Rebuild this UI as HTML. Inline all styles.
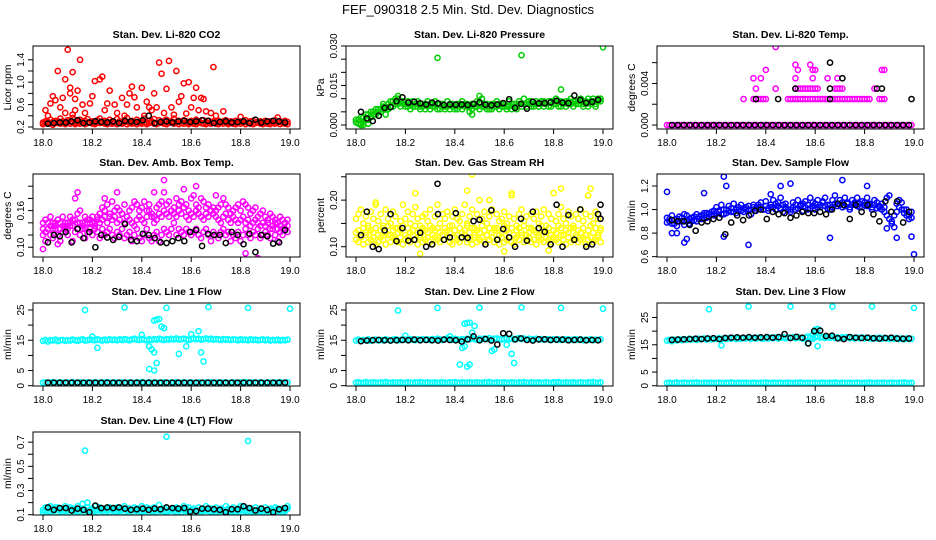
<!DOCTYPE html>
<html><head><meta charset="utf-8">
<style>
html,body{margin:0;padding:0;background:#fff;}
svg{display:block;font-family:"Liberation Sans",Arial,sans-serif;}
</style></head>
<body>
<svg id="chart" width="936" height="540" viewBox="0 0 936 540" xmlns="http://www.w3.org/2000/svg">
<rect x="0" y="0" width="936" height="540" fill="#fff"/>
<text x="468" y="14" text-anchor="middle" font-size="13">FEF_090318  2.5 Min. Std. Dev. Diagnostics</text>
</svg>
<script>
const colorTimes=[18.00,18.01,18.02,18.03,18.04,18.05,18.06,18.07,18.08,18.09,18.10,18.11,18.12,18.13,18.14,18.15,18.16,18.17,18.18,18.19,18.20,18.21,18.22,18.23,18.24,18.25,18.26,18.27,18.28,18.29,18.30,18.31,18.32,18.33,18.34,18.35,18.36,18.37,18.38,18.39,18.40,18.41,18.42,18.43,18.44,18.45,18.46,18.47,18.48,18.49,18.50,18.51,18.52,18.53,18.54,18.55,18.56,18.57,18.58,18.59,18.60,18.61,18.62,18.63,18.64,18.65,18.66,18.67,18.68,18.69,18.70,18.71,18.72,18.73,18.74,18.75,18.76,18.77,18.78,18.79,18.80,18.81,18.82,18.83,18.84,18.85,18.86,18.87,18.88,18.89,18.90,18.91,18.92,18.93,18.94,18.95,18.96,18.97,18.98,18.99];
const blackTimes=[18.02,18.044,18.068,18.092,18.116,18.14,18.164,18.188,18.212,18.236,18.26,18.284,18.308,18.332,18.356,18.38,18.404,18.428,18.452,18.476,18.5,18.524,18.548,18.572,18.596,18.62,18.644,18.668,18.692,18.716,18.74,18.764,18.788,18.812,18.836,18.86,18.884,18.908,18.932,18.956,18.98];
const xTicks=[18.0,18.2,18.4,18.6,18.8,19.0];
const xTickLabels=["18.0","18.2","18.4","18.6","18.8","19.0"];

// CO2
const co2Band=[0.28,0.3,0.26,0.33,0.29,0.31,0.27,0.35,0.3,0.28,0.32,0.29,0.36,0.27,0.3,0.33,0.28,0.31,0.34,0.29,0.3,0.27,0.32,0.35,0.28,0.31,0.29,0.33,0.3,0.27,0.34,0.3,0.28,0.32,0.36,0.29,0.31,0.27,0.33,0.3,0.29,0.35,0.28,0.31,0.3,0.34,0.27,0.32,0.29,0.31,0.33,0.28,0.3,0.35,0.29,0.31,0.27,0.32,0.3,0.28,0.31,0.29,0.33,0.3,0.27,0.32,0.29,0.31,0.28,0.3,0.29,0.31,0.28,0.3,0.32,0.27,0.3,0.29,0.31,0.28,0.3,0.29,0.32,0.28,0.3,0.31,0.27,0.29,0.3,0.28,0.31,0.29,0.3,0.28,0.32,0.29,0.3,0.28,0.31,0.29];
const co2Band2=[0.25,0.27,0.29,0.26,0.24,0.28,0.3,0.26,0.27,0.25,0.29,0.26,0.28,0.25,0.27,0.26,0.3,0.25,0.27,0.28,0.26,0.25,0.28,0.27,0.3,0.26,0.25,0.27,0.26,0.28,0.25,0.27,0.26,0.29,0.25,0.27,0.26,0.28,0.25,0.27,0.26,0.28,0.25,0.27,0.29,0.26,0.25,0.27,0.28,0.26,0.25,0.27,0.29,0.26,0.28,0.25,0.27,0.26,0.28,0.25,0.27,0.26,0.25,0.28,0.27,0.26,0.25,0.27,0.26,0.28,0.26,0.25,0.27,0.26,0.28,0.25,0.27,0.26,0.25,0.27,0.26,0.28,0.25,0.27,0.26,0.25,0.27,0.28,0.26,0.25,0.27,0.26,0.25,0.27,0.26,0.28,0.25,0.27,0.26,0.25];
const co2ExtraX=[18.01,18.03,18.04,18.05,18.06,18.07,18.08,18.09,18.10,18.11,18.12,18.13,18.14,18.15,18.16,18.17,18.09,18.11,18.13,18.19,18.2,18.21,18.23,18.24,18.25,18.26,18.27,18.29,18.3,18.32,18.34,18.35,18.36,18.37,18.38,18.4,18.41,18.42,18.43,18.44,18.45,18.46,18.47,18.48,18.49,18.5,18.51,18.52,18.53,18.54,18.55,18.56,18.57,18.59,18.6,18.61,18.62,18.63,18.64,18.65,18.66,18.68,18.69,18.7,18.73,18.8,18.95,18.02,18.12,18.33,18.58];
const co2ExtraY=[0.5,0.62,0.75,0.68,1.2,0.55,0.72,0.45,1.58,0.8,1.18,0.7,0.85,1.4,0.6,0.45,1.05,0.9,0.5,0.62,0.75,1.02,1.05,1.1,0.5,0.62,0.85,0.6,0.45,0.72,0.6,0.8,0.92,0.73,0.55,0.9,0.4,0.65,0.55,0.5,0.8,0.55,1.35,1.15,0.45,0.88,1.38,0.55,0.42,1.2,0.65,0.75,0.98,1.0,0.55,0.72,0.9,0.5,0.72,0.7,0.48,0.45,1.27,0.4,0.48,0.38,0.37,0.4,0.42,0.4,0.44];
const co2Black=[0.26,0.27,0.28,0.28,0.3,0.32,0.27,0.28,0.3,0.29,0.28,0.3,0.27,0.31,0.3,0.29,0.32,0.4,0.27,0.29,0.3,0.28,0.3,0.31,0.29,0.3,0.32,0.31,0.27,0.29,0.3,0.28,0.29,0.3,0.27,0.33,0.28,0.3,0.31,0.3,0.28];

// Pressure
const prsBand=[0.001,0.002,0.0005,0.003,0.002,0.004,0.003,0.005,0.004,0.006,0.005,0.007,0.006,0.008,0.007,0.009,0.008,0.01,0.009,0.008,0.007,0.009,0.008,0.007,0.008,0.009,0.007,0.008,0.006,0.009,0.008,0.007,0.009,0.008,0.006,0.008,0.007,0.009,0.008,0.007,0.006,0.008,0.007,0.009,0.008,0.007,0.005,0.008,0.007,0.009,0.008,0.01,0.007,0.008,0.006,0.008,0.007,0.009,0.008,0.007,0.008,0.007,0.009,0.006,0.008,0.007,0.009,0.008,0.01,0.008,0.009,0.007,0.008,0.009,0.007,0.008,0.009,0.008,0.007,0.009,0.008,0.01,0.009,0.007,0.008,0.009,0.008,0.01,0.009,0.008,0.009,0.01,0.008,0.009,0.007,0.009,0.01,0.008,0.009,0.01];
const prsBand2=[0.002,0.0005,0.003,0.001,0.004,0.002,0.005,0.004,0.006,0.005,0.006,0.008,0.007,0.006,0.009,0.007,0.01,0.008,0.007,0.009,0.008,0.007,0.006,0.009,0.007,0.008,0.006,0.007,0.008,0.007,0.006,0.008,0.007,0.006,0.008,0.007,0.006,0.007,0.006,0.008,0.007,0.006,0.008,0.006,0.007,0.008,0.007,0.006,0.008,0.007,0.006,0.007,0.008,0.006,0.007,0.006,0.008,0.007,0.006,0.008,0.007,0.006,0.007,0.008,0.007,0.006,0.008,0.007,0.008,0.007,0.008,0.009,0.007,0.008,0.007,0.009,0.007,0.008,0.009,0.007,0.009,0.008,0.007,0.009,0.008,0.007,0.009,0.008,0.007,0.009,0.008,0.009,0.007,0.008,0.01,0.008,0.009,0.007,0.01,0.009];
const prsExtraX=[18.33,18.67,19.0,18.83,18.5,18.02,18.03,18.05,18.12,18.17,18.47];
const prsExtraY=[0.0255,0.0265,0.0295,0.0135,0.011,0,0,0.0005,0.004,0.011,0.004];
const prsBlack=[0.005,0.0025,0.0015,0.0035,0.0065,0.0068,0.009,0.0105,0.0085,0.0088,0.0082,0.0078,0.0085,0.0082,0.0076,0.0078,0.0077,0.0078,0.0076,0.008,0.0086,0.0077,0.0075,0.0078,0.0083,0.0098,0.0065,0.008,0.0062,0.0088,0.0082,0.0083,0.0086,0.0092,0.0085,0.0083,0.0112,0.0095,0.0084,0.0088,0.0096];

// Li-820 temp
const tmpBand=[0,0,0,0,0,0,0,0,0,0,0,0,0,0,0,0,0,0,0,0,0,0,0,0,0,0,0,0,0,0,0,0,0,0,0,0,0,0,0,0,0,0,0,0,0,0,0,0,0,0,0,0,0,0,0,0,0,0,0,0,0,0,0,0,0,0,0,0,0,0,0,0,0,0,0,0,0,0,0,0,0,0,0,0,0,0,0,0,0,0,0,0,0,0,0,0,0,0,0,0];
const tmpExtraX=[18.31,18.35,18.36,18.37,18.38,18.39,18.4,18.49,18.5,18.51,18.52,18.53,18.54,18.55,18.56,18.57,18.58,18.59,18.6,18.61,18.62,18.63,18.64,18.65,18.66,18.67,18.68,18.69,18.7,18.71,18.72,18.73,18.74,18.75,18.76,18.77,18.78,18.79,18.8,18.81,18.82,18.86,18.87,18.88,18.36,18.44,18.52,18.53,18.54,18.55,18.56,18.57,18.58,18.59,18.6,18.61,18.68,18.69,18.7,18.71,18.84,18.35,18.38,18.52,18.59,18.65,18.69,18.4,18.53,18.59,18.6,18.87,18.88,18.52,18.58,18.44];
const tmpExtraY=[0.0025,0.0025,0.0025,0.0025,0.0025,0.0025,0.0025,0.0025,0.0025,0.0025,0.0025,0.0025,0.0025,0.0025,0.0025,0.0025,0.0025,0.0025,0.0025,0.0025,0.0025,0.0025,0.0025,0.0025,0.0025,0.0025,0.0025,0.0025,0.0025,0.0025,0.0025,0.0025,0.0025,0.0025,0.0025,0.0025,0.0025,0.0025,0.0025,0.0025,0.0025,0.0025,0.0025,0.0025,0.0035,0.0035,0.0035,0.0035,0.0035,0.0035,0.0035,0.0035,0.0035,0.0035,0.0035,0.0035,0.0035,0.0035,0.0035,0.0035,0.0035,0.0045,0.0045,0.0045,0.0045,0.0045,0.0045,0.0053,0.0053,0.0053,0.0053,0.0053,0.0053,0.0058,0.0058,0.0075];
const tmpBlack=[0,0,0,0,0,0,0,0,0,0,0,0,0,0,0,0,0,0,0,0,0,0,0,0,0,0,0,0,0,0,0,0,0,0,0,0,0,0,0,0,0];
const tmpBlackExtraX=[18.36,18.45,18.66,18.52,18.66,18.85,18.87,18.71,18.66,18.99];
const tmpBlackExtraY=[0.0025,0.0025,0.0025,0.0035,0.0035,0.0035,0.0035,0.0045,0.006,0.0025];

// Amb box temp
const ambBand=[0.12,0.11,0.13,0.12,0.115,0.13,0.12,0.11,0.125,0.13,0.12,0.135,0.11,0.125,0.14,0.12,0.13,0.115,0.125,0.13,0.12,0.13,0.125,0.115,0.13,0.12,0.125,0.13,0.12,0.115,0.125,0.12,0.13,0.115,0.12,0.125,0.11,0.12,0.13,0.115,0.11,0.12,0.13,0.115,0.11,0.12,0.125,0.11,0.12,0.13,0.125,0.12,0.13,0.14,0.12,0.13,0.125,0.12,0.13,0.125,0.12,0.125,0.13,0.12,0.115,0.125,0.13,0.12,0.11,0.125,0.12,0.115,0.125,0.13,0.12,0.125,0.11,0.12,0.115,0.125,0.11,0.12,0.13,0.12,0.115,0.125,0.12,0.13,0.115,0.12,0.125,0.12,0.115,0.13,0.12,0.11,0.125,0.12,0.13,0.125];
const ambBand2=[0.14,0.145,0.13,0.15,0.14,0.135,0.145,0.14,0.15,0.135,0.14,0.15,0.145,0.18,0.155,0.16,0.14,0.15,0.145,0.14,0.15,0.14,0.145,0.155,0.165,0.16,0.17,0.15,0.175,0.16,0.165,0.16,0.155,0.17,0.15,0.16,0.165,0.175,0.17,0.16,0.165,0.175,0.16,0.17,0.155,0.15,0.165,0.17,0.175,0.19,0.17,0.175,0.16,0.165,0.18,0.17,0.175,0.165,0.17,0.16,0.18,0.185,0.17,0.165,0.18,0.175,0.165,0.17,0.16,0.165,0.16,0.165,0.17,0.18,0.17,0.165,0.155,0.16,0.165,0.17,0.16,0.175,0.17,0.165,0.155,0.16,0.165,0.15,0.155,0.16,0.15,0.145,0.155,0.15,0.145,0.14,0.15,0.145,0.14,0.145];
const ambBand3=[0.13,0.125,0.14,0.135,0.13,0.14,0.145,0.13,0.135,0.14,0.13,0.14,0.135,0.145,0.13,0.14,0.135,0.13,0.14,0.145,0.14,0.135,0.15,0.14,0.145,0.15,0.14,0.155,0.145,0.15,0.14,0.145,0.155,0.14,0.15,0.145,0.14,0.135,0.145,0.15,0.145,0.14,0.15,0.16,0.15,0.14,0.145,0.155,0.15,0.16,0.155,0.15,0.16,0.155,0.15,0.16,0.155,0.165,0.15,0.145,0.155,0.15,0.16,0.155,0.15,0.145,0.155,0.15,0.16,0.155,0.15,0.145,0.14,0.15,0.155,0.145,0.14,0.15,0.145,0.14,0.145,0.15,0.14,0.145,0.135,0.14,0.145,0.14,0.135,0.14,0.135,0.14,0.13,0.135,0.14,0.13,0.135,0.13,0.14,0.135];
const ambExtraX=[18.14,18.49,18.62,18.87,18.0,18.82,18.3,18.25,18.57,18.7,18.45,18.06];
const ambExtraY=[0.19,0.21,0.2,0.082,0.097,0.09,0.19,0.18,0.195,0.185,0.19,0.105];
const ambBlack=[0.108,0.12,0.118,0.125,0.108,0.13,0.115,0.125,0.1,0.12,0.116,0.112,0.117,0.138,0.112,0.11,0.122,0.12,0.115,0.108,0.107,0.11,0.115,0.11,0.125,0.128,0.102,0.122,0.12,0.12,0.107,0.125,0.12,0.105,0.122,0.092,0.12,0.118,0.106,0.108,0.128];

// Gas stream RH
const rhBand=[0.115,0.11,0.12,0.105,0.125,0.11,0.115,0.12,0.105,0.11,0.12,0.115,0.105,0.125,0.11,0.12,0.115,0.11,0.12,0.105,0.115,0.12,0.11,0.125,0.115,0.105,0.12,0.11,0.115,0.12,0.11,0.105,0.12,0.115,0.11,0.125,0.115,0.12,0.11,0.105,0.12,0.115,0.11,0.12,0.125,0.11,0.115,0.105,0.12,0.11,0.115,0.12,0.11,0.125,0.115,0.12,0.11,0.115,0.105,0.12,0.11,0.115,0.12,0.11,0.105,0.12,0.115,0.125,0.11,0.115,0.12,0.11,0.115,0.105,0.12,0.115,0.11,0.12,0.115,0.11,0.12,0.115,0.11,0.125,0.115,0.105,0.12,0.11,0.115,0.12,0.11,0.115,0.12,0.105,0.115,0.12,0.11,0.115,0.12,0.11];
const rhBand2=[0.16,0.17,0.18,0.15,0.165,0.14,0.175,0.16,0.19,0.155,0.17,0.145,0.18,0.16,0.15,0.175,0.165,0.14,0.155,0.19,0.16,0.175,0.15,0.17,0.185,0.16,0.145,0.165,0.17,0.155,0.18,0.14,0.165,0.19,0.15,0.17,0.16,0.175,0.145,0.165,0.18,0.16,0.155,0.17,0.19,0.15,0.165,0.18,0.14,0.17,0.2,0.16,0.175,0.15,0.165,0.18,0.14,0.17,0.155,0.16,0.175,0.15,0.165,0.21,0.16,0.145,0.17,0.18,0.155,0.165,0.14,0.17,0.16,0.175,0.15,0.165,0.18,0.145,0.17,0.16,0.215,0.155,0.17,0.185,0.16,0.15,0.175,0.165,0.14,0.17,0.16,0.18,0.155,0.17,0.21,0.165,0.15,0.175,0.16,0.14];
const rhBand3=[0.13,0.135,0.125,0.14,0.13,0.145,0.135,0.13,0.14,0.125,0.135,0.14,0.13,0.145,0.125,0.135,0.14,0.13,0.135,0.145,0.125,0.14,0.13,0.135,0.145,0.13,0.125,0.14,0.135,0.13,0.145,0.125,0.135,0.14,0.13,0.125,0.14,0.135,0.13,0.145,0.135,0.125,0.14,0.13,0.135,0.145,0.13,0.14,0.125,0.135,0.13,0.145,0.135,0.125,0.14,0.13,0.135,0.14,0.125,0.13,0.145,0.135,0.13,0.14,0.125,0.135,0.14,0.13,0.145,0.125,0.13,0.14,0.135,0.13,0.125,0.145,0.135,0.13,0.14,0.125,0.135,0.13,0.145,0.14,0.125,0.135,0.13,0.14,0.145,0.125,0.135,0.13,0.14,0.125,0.135,0.145,0.13,0.14,0.125,0.135];
const rhExtraX=[18.47,18.24,18.45,18.26,18.95,18.54,18.83,18.63,18.94,18.08,18.6,18.78];
const rhExtraY=[0.255,0.215,0.22,0.085,0.225,0.2,0.225,0.215,0.21,0.195,0.09,0.092];
const rhBlack=[0.125,0.175,0.1,0.095,0.135,0.17,0.112,0.14,0.113,0.115,0.13,0.1,0.105,0.17,0.115,0.12,0.172,0.12,0.119,0.155,0.158,0.105,0.178,0.115,0.138,0.12,0.1,0.16,0.113,0.175,0.14,0.132,0.105,0.19,0.1,0.168,0.115,0.18,0.1,0.105,0.17];
const rhBlackExtraX=[18.33,18.99,18.99];
const rhBlackExtraY=[0.235,0.19,0.16];

// Sample flow
const sfBand=[0.93,0.9,0.95,0.88,0.92,0.94,0.9,0.87,0.95,0.92,0.9,0.94,0.96,0.92,0.95,0.97,0.93,0.96,0.98,0.95,0.97,0.99,0.96,1.0,0.97,0.99,1.01,0.98,1.0,1.02,0.99,1.01,1.0,1.03,1.0,1.02,1.01,1.04,1.02,1.0,1.03,1.01,1.04,1.02,1.05,1.03,1.01,1.04,1.02,1.0,1.0,1.02,1.04,1.01,1.03,1.05,1.02,1.04,1.01,1.03,1.05,1.02,1.04,1.06,1.03,1.01,1.04,1.02,1.05,1.03,1.04,1.06,1.03,1.05,1.02,1.04,1.06,1.03,1.05,1.02,1.04,1.03,1.05,1.02,1.04,1.01,1.03,1.0,1.02,0.95,0.92,0.9,0.95,0.98,1.02,1.0,0.97,1.0,0.95,0.93];
const sfBand2=[0.89,0.92,0.88,0.91,0.86,0.9,0.93,0.96,0.9,0.88,0.93,0.91,0.9,0.94,0.92,0.95,0.97,0.94,0.96,0.99,1.02,0.98,1.04,0.96,1.0,1.03,0.98,1.05,0.97,1.0,1.04,0.98,1.02,1.0,0.96,1.04,0.99,1.02,1.06,1.0,1.07,0.99,1.02,1.08,1.0,1.06,1.1,0.98,1.05,1.0,0.98,1.06,1.0,1.08,1.04,0.99,1.07,1.0,1.1,1.06,1.0,1.08,1.02,1.07,1.1,1.04,1.0,1.08,1.12,1.05,1.08,1.02,1.1,1.06,1.0,1.08,1.05,1.1,1.02,1.07,1.06,1.1,1.04,1.0,1.08,1.06,1.02,1.05,0.98,1.1,1.12,0.88,0.85,1.05,1.08,1.06,1.0,0.95,0.92,0.98];
const sfExtraX=[18.0,18.04,18.07,18.08,18.23,18.24,18.23,18.33,18.5,18.46,18.71,18.66,18.81,18.93,18.99,19.0,18.89,18.02,18.15,18.42];
const sfExtraY=[1.15,0.8,0.72,0.75,1.28,1.2,0.77,0.7,1.22,1.2,1.25,0.76,1.2,0.76,0.77,0.62,0.84,0.8,1.14,1.13];
const sfBlack=[0.91,0.9,0.9,0.87,0.82,0.89,0.9,0.92,0.93,0.79,0.89,0.95,0.91,0.95,0.99,1.0,0.92,0.98,0.96,0.97,0.93,0.95,0.98,0.97,0.97,0.98,0.96,1.0,1.05,1.04,0.92,1.04,0.98,1.04,0.96,0.9,1.07,0.98,1.07,0.89,0.98];

// Line flows
const l1Band=[14.8,15.1,14.6,15.0,14.9,15.2,14.7,15.0,15.1,14.8,15.0,14.9,15.2,15.0,14.8,15.1,15.3,14.9,15.0,15.2,15.1,15.0,15.3,15.1,14.9,15.2,15.0,15.3,15.1,15.2,15.0,15.3,15.1,15.4,15.2,15.0,15.3,15.5,15.2,15.1,15.4,15.2,15.0,15.3,15.1,15.4,15.2,15.5,15.3,15.1,15.4,15.2,15.5,15.3,15.6,15.2,15.4,15.5,15.3,15.1,15.4,15.6,15.3,15.5,15.2,15.4,15.6,15.3,15.5,15.2,15.4,15.3,15.1,15.4,15.2,15.3,15.1,15.3,15.2,15.0,15.3,15.1,15.2,15.0,15.3,15.1,15.2,15.0,15.1,15.3,15.0,15.2,14.9,15.1,15.0,15.2,14.9,15.1,15.0,15.2];
const l1Low=[1.0,1.1,0.9,1.0,1.2,0.9,1.0,1.1,1.0,0.9,1.1,1.0,1.2,1.0,0.9,1.1,1.0,1.0,1.1,0.9,1.0,1.1,1.0,0.9,1.1,1.0,1.2,1.0,0.9,1.1,1.0,1.0,1.1,0.9,1.0,1.1,1.0,0.9,1.1,1.0,1.2,1.0,0.9,1.1,1.0,1.0,1.1,0.9,1.0,1.1,1.0,0.9,1.1,1.0,1.2,1.0,0.9,1.1,1.0,1.0,1.1,0.9,1.0,1.1,1.0,0.9,1.1,1.0,1.2,1.0,0.9,1.1,1.0,1.0,1.1,0.9,1.0,1.1,1.0,0.9,1.1,1.0,1.2,1.0,0.9,1.1,1.0,1.0,1.1,0.9,1.0,1.1,1.0,0.9,1.1,1.0,1.2,1.0,0.9,1.1];
const l1ExtraX=[18.17,18.33,18.5,18.67,18.83,19.0,18.45,18.46,18.47,18.48,18.49,18.43,18.44,18.45,18.43,18.45,18.46,18.55,18.58,18.63,18.64,18.65,18.22,18.6,18.4,18.2];
const l1ExtraY=[25,25.8,25.7,26,25.7,25.4,21.5,21.8,22,19.5,19,13,12,11,5.5,5,7.5,10.5,13,18,11,8,12.5,17,16.8,16.2];
const l1Black=[1,1,1,1,1,1,1,1,1,1,1,1,1,1,1,1,1,1,1,1,1,1,1,1,1,1,1,1,1,1,1,1,1,1,1,1,1,1,1,1,1];

const l2Band=[14.9,15.2,14.7,15.1,15.0,15.3,14.8,15.1,15.2,14.9,15.1,15.0,15.3,15.1,14.9,15.2,15.4,15.0,15.1,15.3,15.2,15.1,15.4,15.2,15.0,15.3,15.1,15.4,15.2,15.3,15.1,15.4,15.2,15.5,15.3,15.1,15.4,15.6,15.3,15.2,15.5,15.3,15.1,15.4,15.2,15.5,15.3,15.6,15.4,15.2,15.5,15.3,15.6,15.4,15.7,15.3,15.5,15.6,15.4,15.2,15.5,15.7,15.4,15.6,15.3,15.5,15.7,15.4,15.6,15.3,15.5,15.4,15.2,15.5,15.3,15.4,15.2,15.4,15.3,15.1,15.4,15.2,15.3,15.1,15.4,15.2,15.3,15.1,15.2,15.4,15.1,15.3,15.0,15.2,15.1,15.3,15.0,15.2,15.1,15.3];
const l2Low=[1.0,1.1,0.9,1.0,1.2,0.9,1.0,1.1,1.0,0.9,1.1,1.0,1.2,1.0,0.9,1.1,1.0,1.0,1.1,0.9,1.0,1.1,1.0,0.9,1.1,1.0,1.2,1.0,0.9,1.1,1.0,1.0,1.1,0.9,1.0,1.1,1.0,0.9,1.1,1.0,1.2,1.0,0.9,1.1,1.0,1.0,1.1,0.9,1.0,1.1,1.0,0.9,1.1,1.0,1.2,1.0,0.9,1.1,1.0,1.0,1.1,0.9,1.0,1.1,1.0,0.9,1.1,1.0,1.2,1.0,0.9,1.1,1.0,1.0,1.1,0.9,1.0,1.1,1.0,0.9,1.1,1.0,1.2,1.0,0.9,1.1,1.0,1.0,1.1,0.9,1.0,1.1,1.0,0.9,1.1,1.0,1.2,1.0,0.9,1.1];
const l2ExtraX=[18.17,18.33,18.5,18.67,18.83,19.0,18.44,18.45,18.46,18.48,18.47,18.43,18.44,18.42,18.45,18.46,18.55,18.56,18.63,18.64,18.61,18.2,18.38];
const l2ExtraY=[24.8,25.7,25.8,25.8,25.7,25.4,20.5,20.7,20.8,19.7,17.5,12.5,13,7,6.3,7,11.5,12,10.5,7.5,13.5,16.5,16.3];
const l2Black=[14.7,14.9,15.0,15.1,15.0,14.9,15.0,15.1,15.0,15.2,15.0,15.1,15.0,14.9,15.2,15.1,15.0,14.6,15.3,16.3,15.0,15.4,14.9,13.6,17.3,17.1,15.3,15.6,15.1,14.9,15.3,15.3,15.1,15.2,15.2,15.0,15.1,15.2,15.0,15.1,15.0];

const l3Band=[16.5,16.8,16.3,16.9,16.6,17.0,16.7,17.1,16.8,17.2,16.9,17.1,16.8,17.2,17.0,17.3,16.9,17.2,17.0,17.3,17.1,17.4,17.0,17.3,17.1,17.4,17.2,17.5,17.1,17.4,17.2,17.5,17.3,17.6,17.2,17.5,17.3,17.6,17.4,17.2,17.5,17.3,17.6,17.4,17.7,17.3,17.6,17.8,17.4,17.7,17.5,17.8,17.4,17.7,17.5,17.3,17.6,18.0,17.5,17.2,17.8,18.2,17.6,17.9,17.5,17.8,17.6,17.9,17.5,17.7,17.4,17.7,17.5,17.8,17.4,17.6,17.3,17.6,17.4,17.7,17.3,17.6,17.4,17.2,17.5,17.3,17.6,17.2,17.5,17.3,17.1,17.4,17.2,17.5,17.1,17.3,17.0,17.3,17.1,17.2];
const l3Low=[1.0,1.1,0.9,1.0,1.2,0.9,1.0,1.1,1.0,0.9,1.1,1.0,1.2,1.0,0.9,1.1,1.0,1.0,1.1,0.9,1.0,1.1,1.0,0.9,1.1,1.0,1.2,1.0,0.9,1.1,1.0,1.0,1.1,0.9,1.0,1.1,1.0,0.9,1.1,1.0,1.2,1.0,0.9,1.1,1.0,1.0,1.1,0.9,1.0,1.1,1.0,0.9,1.1,1.0,1.2,1.0,0.9,1.1,1.0,1.0,1.1,0.9,1.0,1.1,1.0,0.9,1.1,1.0,1.2,1.0,0.9,1.1,1.0,1.0,1.1,0.9,1.0,1.1,1.0,0.9,1.1,1.0,1.2,1.0,0.9,1.1,1.0,1.0,1.1,0.9,1.0,1.1,1.0,0.9,1.1,1.0,1.2,1.0,0.9,1.1];
const l3ExtraX=[18.17,18.33,18.5,18.67,18.83,19.0,18.22,18.61,18.6,18.61,18.57,18.59,18.6];
const l3ExtraY=[28,29,29,29,29,28.5,14.8,14.5,20.5,20.8,15.5,18.5,19.5];
const l3Black=[16.8,16.9,17.0,17.1,17.2,17.1,17.3,17.4,17.1,17.5,17.6,17.7,17.6,17.8,17.6,17.7,17.8,17.6,17.8,18.9,17.5,17.9,17.6,15.5,20.0,20.2,18.2,18.3,17.4,17.1,17.8,17.6,17.5,17.6,17.4,17.3,17.5,17.6,17.3,17.2,17.3];

const l4Band=[0.14,0.16,0.13,0.17,0.15,0.14,0.16,0.13,0.15,0.17,0.14,0.16,0.15,0.13,0.17,0.15,0.19,0.14,0.16,0.13,0.15,0.17,0.14,0.16,0.13,0.15,0.14,0.16,0.15,0.13,0.16,0.14,0.15,0.17,0.13,0.15,0.14,0.16,0.13,0.15,0.17,0.14,0.16,0.15,0.13,0.16,0.14,0.18,0.15,0.13,0.16,0.14,0.15,0.13,0.16,0.14,0.15,0.17,0.13,0.16,0.14,0.15,0.13,0.16,0.14,0.15,0.17,0.13,0.15,0.14,0.16,0.13,0.15,0.14,0.17,0.15,0.13,0.16,0.14,0.15,0.17,0.14,0.16,0.13,0.15,0.14,0.16,0.13,0.15,0.14,0.16,0.13,0.15,0.14,0.16,0.15,0.13,0.15,0.14,0.17];
const l4Band2=[0.12,0.13,0.15,0.12,0.13,0.16,0.12,0.14,0.12,0.13,0.15,0.12,0.13,0.14,0.12,0.13,0.15,0.12,0.13,0.14,0.12,0.13,0.12,0.14,0.15,0.12,0.13,0.12,0.14,0.15,0.12,0.13,0.14,0.12,0.15,0.13,0.12,0.14,0.15,0.13,0.12,0.13,0.14,0.12,0.15,0.13,0.12,0.14,0.13,0.15,0.12,0.13,0.14,0.15,0.12,0.13,0.12,0.14,0.15,0.12,0.13,0.12,0.14,0.13,0.12,0.13,0.14,0.15,0.12,0.13,0.12,0.14,0.13,0.12,0.13,0.14,0.12,0.13,0.12,0.13,0.14,0.12,0.13,0.15,0.12,0.13,0.12,0.14,0.13,0.12,0.13,0.14,0.12,0.13,0.12,0.13,0.14,0.12,0.13,0.15];
const l4ExtraX=[18.17,18.5,18.83,18.18];
const l4ExtraY=[0.63,0.745,0.71,0.2];
const l4Black=[0.16,0.14,0.155,0.155,0.135,0.15,0.14,0.12,0.175,0.155,0.16,0.155,0.16,0.15,0.14,0.145,0.15,0.14,0.15,0.145,0.16,0.155,0.15,0.155,0.125,0.13,0.15,0.15,0.145,0.14,0.12,0.145,0.145,0.17,0.155,0.135,0.15,0.14,0.12,0.145,0.155];

const C={red:"#ff0000",green:"#00cd00",mag:"#ff00ff",yel:"#ffff00",blue:"#0000ff",cyan:"#00ffff",blk:"#000000"};
const colX=[33,346,657], rowY=[46,174,303,432], BW=267, BH=83;

const panels=[
 {id:"co2",title:"Stan. Dev. Li-820 CO2",ylab:"Licor ppm",c:0,r:0,yr:[0.164,1.646],ticks:[0.2,0.4,0.6,0.8,1.0,1.2,1.4],labs:{"0.2":"0.2","0.6":"0.6","1":"1.0","1.4":"1.4"},col:C.red,bands:[co2Band,co2Band2],ex:[co2ExtraX,co2ExtraY],blk:co2Black},
 {id:"pressure",title:"Stan. Dev. Li-820 Pressure",ylab:"kPa",c:1,r:0,yr:[-0.00152,0.030],ticks:[0,0.005,0.01,0.015,0.02,0.025,0.03],labs:{"0":"0.000","0.015":"0.015","0.03":"0.030"},col:C.green,bands:[prsBand,prsBand2],ex:[prsExtraX,prsExtraY],blk:prsBlack},
 {id:"li820-temp",title:"Stan. Dev. Li-820 Temp.",ylab:"degrees C",c:2,r:0,yr:[-0.00038,0.0076],ticks:[0,0.002,0.004,0.006],labs:{"0":"0.000","0.004":"0.004"},col:C.mag,bands:[tmpBand],ex:[tmpExtraX,tmpExtraY],blk:tmpBlack,bex:[tmpBlackExtraX,tmpBlackExtraY]},
 {id:"amb-box-temp",title:"Stan. Dev. Amb. Box Temp.",ylab:"degrees C",c:0,r:1,yr:[0.084,0.220],ticks:[0.10,0.12,0.14,0.16,0.18,0.20],labs:{"0.1":"0.10","0.16":"0.16"},col:C.mag,bands:[ambBand,ambBand2,ambBand3],ex:[ambExtraX,ambExtraY],blk:ambBlack},
 {id:"gas-stream-rh",title:"Stan. Dev. Gas Stream RH",ylab:"percent",c:1,r:1,yr:[0.078,0.256],ticks:[0.10,0.15,0.20,0.25],labs:{"0.1":"0.10","0.2":"0.20"},col:C.yel,bands:[rhBand,rhBand2,rhBand3],ex:[rhExtraX,rhExtraY],blk:rhBlack,bex:[rhBlackExtraX,rhBlackExtraY]},
 {id:"sample-flow",title:"Stan. Dev. Sample Flow",ylab:"ml/min",c:2,r:1,yr:[0.597,1.302],ticks:[0.6,0.8,1.0,1.2],labs:{"0.6":"0.6","0.8":"0.8","1":"1.0","1.2":"1.2"},col:C.blue,bands:[sfBand,sfBand2],ex:[sfExtraX,sfExtraY],blk:sfBlack},
 {id:"line1-flow",title:"Stan. Dev. Line 1 Flow",ylab:"ml/min",c:0,r:2,yr:[-0.1,27.3],ticks:[0,5,10,15,20,25],labs:{"0":"0","5":"5","15":"15","25":"25"},col:C.cyan,bands:[l1Band,l1Low],ex:[l1ExtraX,l1ExtraY],blk:l1Black},
 {id:"line2-flow",title:"Stan. Dev. Line 2 Flow",ylab:"ml/min",c:1,r:2,yr:[-0.1,27.3],ticks:[0,5,10,15,20,25],labs:{"0":"0","5":"5","15":"15","25":"25"},col:C.cyan,bands:[l2Band,l2Low],ex:[l2ExtraX,l2ExtraY],blk:l2Black},
 {id:"line3-flow",title:"Stan. Dev. Line 3 Flow",ylab:"ml/min",c:2,r:2,yr:[-0.1,30.3],ticks:[0,5,10,15,20,25],labs:{"0":"0","5":"5","15":"15","25":"25"},col:C.cyan,bands:[l3Band,l3Low],ex:[l3ExtraX,l3ExtraY],blk:l3Black},
 {id:"line4-flow",title:"Stan. Dev. Line 4 (LT) Flow",ylab:"ml/min",c:0,r:3,yr:[0.0975,0.784],ticks:[0.1,0.2,0.3,0.4,0.5,0.6,0.7],labs:{"0.1":"0.1","0.3":"0.3","0.5":"0.5","0.7":"0.7"},col:C.cyan,bands:[l4Band,l4Band2],ex:[l4ExtraX,l4ExtraY],blk:l4Black}
];

const NS="http://www.w3.org/2000/svg";
const svg=document.getElementById("chart");
function mk(tag,attrs,parent){const e=document.createElementNS(NS,tag);for(const k in attrs)e.setAttribute(k,attrs[k]);parent.appendChild(e);return e;}

panels.forEach(p=>{
  const L=colX[p.c], T=rowY[p.r];
  const sx=v=>L+10+(v-18)*(BW-20);
  const sy=v=>T+BH-(v-p.yr[0])/(p.yr[1]-p.yr[0])*BH;
  const g=mk("g",{},svg);
  
  
  const t=mk("text",{x:L+BW/2,y:T-8,"text-anchor":"middle","font-size":"10.5","font-weight":"bold"},g);
  t.textContent=p.title;
  
  
  // x axis
  const xa=mk("g",{},g);
  
  
  mk("line",{x1:sx(18),x2:sx(19),y1:T+BH,y2:T+BH,stroke:"#000"},xa);
  xTicks.forEach((v,i)=>{
    mk("line",{x1:sx(v),x2:sx(v),y1:T+BH,y2:T+BH+5,stroke:"#000"},xa);
    const tl=mk("text",{x:sx(v),y:T+BH+17,"text-anchor":"middle","font-size":"10"},xa);
    tl.textContent=xTickLabels[i];
    
    
  });
  // y axis
  const ya=mk("g",{},g);
  
  
  mk("line",{x1:L,x2:L,y1:sy(p.ticks[0]),y2:sy(p.ticks[p.ticks.length-1]),stroke:"#000"},ya);
  p.ticks.forEach(v=>{
    const y=sy(v);
    mk("line",{x1:L-5,x2:L,y1:y,y2:y,stroke:"#000"},ya);
    const key=String(+v.toFixed(6));
    if(p.labs[key]!==undefined){
      const tl=mk("text",{x:L-9,y:y,"text-anchor":"middle","font-size":"10",transform:`rotate(-90 ${L-9} ${y})`},ya);
      tl.textContent=p.labs[key];
      
      
    }
  });
  const yt=mk("text",{x:L-22,y:T+BH/2,"text-anchor":"middle","font-size":"10.5",transform:`rotate(-90 ${L-22} ${T+BH/2})`},g);
  yt.textContent=p.ylab;
  
  
  // clip
  const cp=mk("clipPath",{id:"cp-"+p.id},g);
  mk("rect",{x:L,y:T,width:BW,height:BH},cp);
  const pts=mk("g",{"clip-path":`url(#cp-${p.id})`,fill:"none","stroke-width":"1.5"},g);
  
  
  const dot=(x,y,col)=>{const c=mk("circle",{cx:sx(x),cy:sy(y),r:2.6,stroke:col},pts);
    
    };
  p.bands.forEach(b=>b.forEach((v,i)=>dot(colorTimes[i],v,p.col)));
  p.ex[0].forEach((x,i)=>dot(x,p.ex[1][i],p.col));
  p.blk.forEach((v,i)=>dot(blackTimes[i],v,C.blk));
  if(p.bex)p.bex[0].forEach((x,i)=>dot(x,p.bex[1][i],C.blk));
  const box=mk("rect",{x:L,y:T,width:BW,height:BH,fill:"none",stroke:"#000"},g);
  
  
});
</script>
</body></html>
